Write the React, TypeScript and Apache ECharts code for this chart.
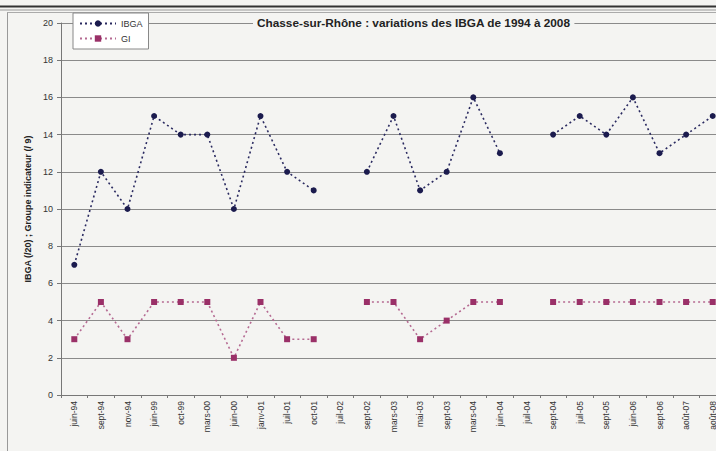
import React, { useEffect, useRef } from "react";
import * as echarts from "echarts";

const categories = [
  "juin-94", "sept-94", "nov-94", "juin-99", "oct-99", "mars-00", "juin-00",
  "janv-01", "juil-01", "oct-01", "juil-02", "sept-02", "mars-03", "mai-03",
  "sept-03", "mars-04", "juin-04", "juil-04", "sept-04", "juil-05", "sept-05",
  "juin-06", "sept-06", "août-07", "août-08",
];
const ibga = [7, 12, 10, 15, 14, 14, 10, 15, 12, 11, null, 12, 15, 11, 12, 16, 13, null, 14, 15, 14, 16, 13, 14, 15];
const gi = [3, 5, 3, 5, 5, 5, 2, 5, 3, 3, null, 5, 5, 3, 4, 5, 5, null, 5, 5, 5, 5, 5, 5, 5];
const yTicks = [0, 2, 4, 6, 8, 10, 12, 14, 16, 18, 20];

const FONT = "'Liberation Sans', Arial, sans-serif";
const BG = "#f4f4f2";

export default function App() {
  const ref = useRef<HTMLDivElement>(null);
  useEffect(() => {
    if (!ref.current) return;
    const chart = echarts.init(ref.current, undefined, { renderer: "svg" });
    chart.setOption({
      animation: false,
      backgroundColor: BG,
      textStyle: { fontFamily: FONT },
      title: {
        text: "Chasse-sur-Rhône : variations des IBGA de 1994 à 2008",
        left: 253,
        top: 17,
        padding: [0, 4],
        backgroundColor: BG,
        textStyle: { fontFamily: FONT, fontSize: 11.8, fontWeight: "bold", color: "#222" },
      },
      legend: {
        left: 73,
        top: 13,
        orient: "vertical",
        itemGap: 6,
        itemWidth: 36,
        itemHeight: 8,
        padding: [6, 6, 6, 6],
        backgroundColor: "#ffffff",
        borderColor: "#888",
        borderWidth: 1,
        textStyle: { fontFamily: FONT, fontSize: 9, color: "#333" },
        data: ["IBGA", "GI"],
      },
      grid: { left: 61, right: 4, top: 23, bottom: 56 },
      xAxis: {
        type: "category",
        data: categories,
        boundaryGap: true,
        axisLine: { lineStyle: { color: "#777", width: 1 } },
        axisTick: { show: true, length: 3, lineStyle: { color: "#777" } },
        axisLabel: { rotate: 90, fontSize: 8.5, color: "#333", margin: 6, fontFamily: FONT, interval: 0 },
      },
      yAxis: {
        type: "value",
        min: 0,
        max: 20,
        interval: 2,
        name: "IBGA (/20) ; Groupe indicateur (/ 9)",
        nameLocation: "middle",
        nameGap: 28,
        nameTextStyle: { fontFamily: FONT, fontSize: 9, fontWeight: "bold", color: "#222" },
        axisLine: { show: true, lineStyle: { color: "#777" } },
        axisTick: { show: true, length: 4, lineStyle: { color: "#777" } },
        axisLabel: {
          fontSize: 9,
          color: "#333",
          margin: 8,
          fontFamily: FONT,
          formatter: (v: number) => (yTicks.includes(v) ? String(v) : ""),
        },
        splitLine: { lineStyle: { color: "#8a8a8a", width: 1 } },
      },
      series: [
        {
          name: "IBGA",
          type: "line",
          data: ibga,
          connectNulls: false,
          symbol: "circle",
          symbolSize: 6,
          itemStyle: { color: "#1b1b4e" },
          lineStyle: { color: "#2a2a60", width: 1.6, type: [2, 3] },
        },
        {
          name: "GI",
          type: "line",
          data: gi,
          connectNulls: false,
          symbol: "rect",
          symbolSize: 6,
          itemStyle: { color: "#9a3068" },
          lineStyle: { color: "#b56a92", width: 1.6, type: [2, 3] },
        },
      ],
      graphic: [
        { type: "line", shape: { x1: 0, y1: 6.5, x2: 740, y2: 6.5 }, style: { stroke: "#333", lineWidth: 2 } },
        { type: "line", shape: { x1: 0, y1: 10, x2: 740, y2: 10 }, style: { stroke: "#999", lineWidth: 1 } },
        { type: "line", shape: { x1: 7.5, y1: 12, x2: 7.5, y2: 451 }, style: { stroke: "#999", lineWidth: 1 } },
        { type: "line", shape: { x1: 7.5, y1: 12.5, x2: 740, y2: 12.5 }, style: { stroke: "#aaa", lineWidth: 1 } },
      ],
    });
    return () => chart.dispose();
  }, []);
  return (
    <div style={{ position: "fixed", left: 0, top: 0, width: 716, height: 451, overflow: "hidden", background: BG }}>
      <div ref={ref} style={{ width: 730, height: 451 }} />
    </div>
  );
}
